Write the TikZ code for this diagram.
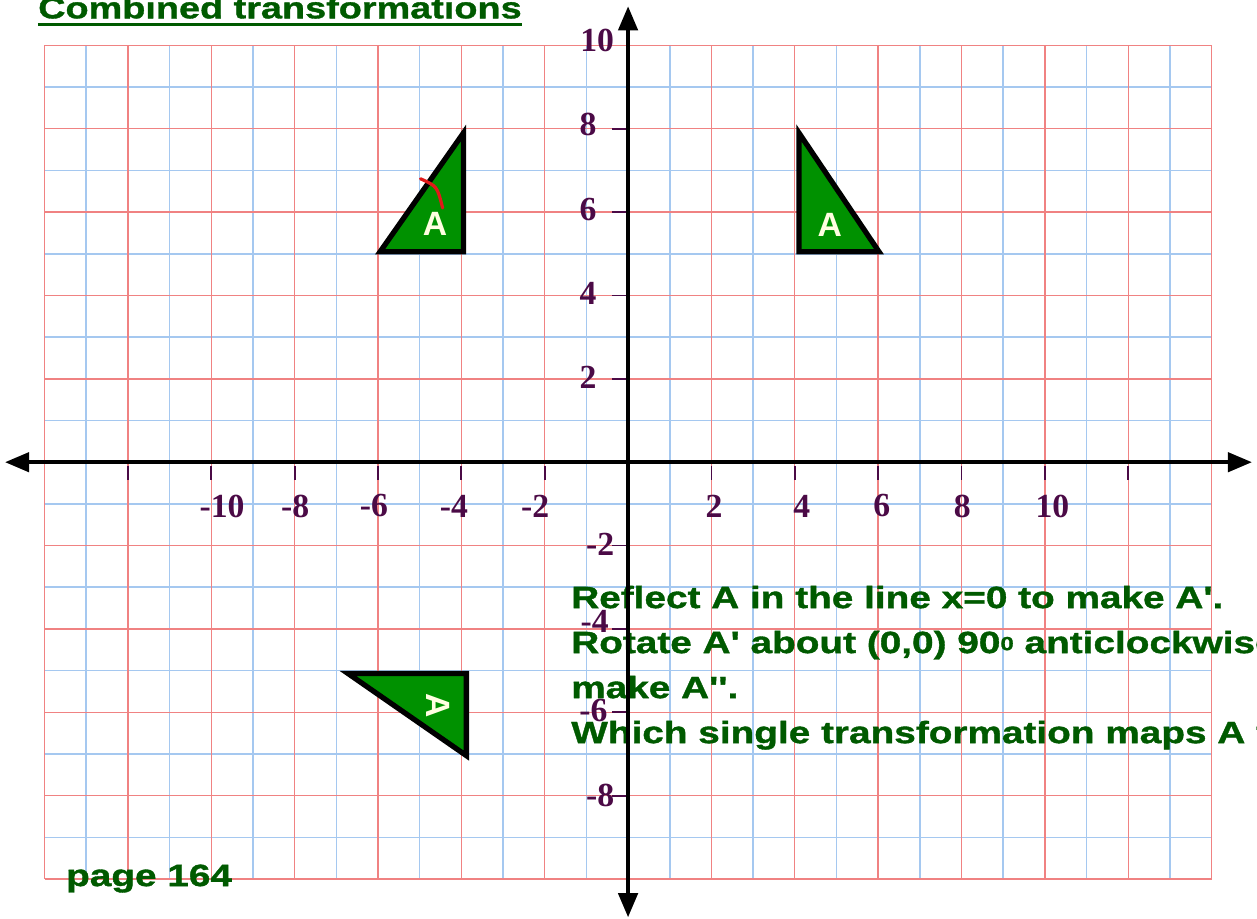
\documentclass[tikz,border=0pt]{standalone}
\usepackage{fontspec}
\usetikzlibrary{arrows.meta}
\newfontfamily\taskfont[FakeStretch=1.26,FakeBold=1.2,Ligatures=TeXOff]{Liberation Sans}
\newfontfamily\letterfont{Liberation Sans}
\newfontfamily\numfont{Liberation Serif}
\definecolor{gridred}{RGB}{240,130,130}
\definecolor{gridblue}{RGB}{165,200,240}
\definecolor{textgreen}{RGB}{0,90,0}
\definecolor{shapegreen}{RGB}{0,145,0}
\definecolor{numpurple}{RGB}{75,10,70}
\definecolor{letterwhite}{RGB}{255,255,225}
\definecolor{penred}{RGB}{225,25,25}
\begin{document}
\begin{tikzpicture}[>={Triangle[length=5.8mm,width=4.6mm]},
  task/.style={inner sep=0, anchor=base west, text=textgreen, font=\taskfont\bfseries\fontsize{21}{25}\selectfont},
  num/.style={inner sep=0, text=numpurple, font=\numfont\bfseries\fontsize{23}{27}\selectfont},
  tickmark/.style={numpurple, line width=1.2pt},
  tri/.style={draw=black, fill=shapegreen, line width=3.6pt},
  letter/.style={inner sep=0, text=letterwhite, font=\letterfont\bfseries\fontsize{23}{27}\selectfont}]
\useasboundingbox (-15.07,-10.94) rectangle (15.09,11.09);
% squared paper
\foreach \x in {-13,-11,...,13} \draw[gridblue, line width=1.1pt] (\x,-10) -- (\x,10);
\foreach \y in {-9,-7,...,9} \draw[gridblue, line width=1.1pt] (-14,\y) -- (14,\y);
\foreach \x in {-14,-12,...,14} \draw[gridred, line width=0.9pt] (\x,-10) -- (\x,10);
\foreach \y in {-10,-8,...,10} \draw[gridred, line width=0.9pt] (-14,\y) -- (14,\y);
% task text
\node[task, font=\taskfont\bfseries\fontsize{20.5}{25}\selectfont] (title) at (-14.16,10.65) {Combined transformations};
\draw[textgreen, line width=1.6pt] ([yshift=-4.3pt]title.base west) -- ([yshift=-4.3pt]title.base east);
\node[task] (reflect) at (-1.37,-3.50) {Reflect A in the line x=0 to make A'.};
\node[task] (rotate) at (-1.37,-4.58) {Rotate A' about (0,0) 90{\fontsize{13}{15}\selectfont\raisebox{2pt}{0}} anticlockwise};
\node[task] (make) at (-1.37,-5.66) {make A''.};
\node[task] (which) at (-1.37,-6.74) {Which single transformation maps A to};
\node[task] (page) at (-13.49,-10.17) {page 164};
% triangles
\draw[tri] (-5.95,5.05) -- (-3.95,5.05) -- (-3.95,7.9) -- cycle;
\draw[tri] (4.1,5.05) -- (4.1,7.9) -- (6.02,5.05) -- cycle;
\draw[tri] (-6.72,-5.07) -- (-3.88,-5.07) -- (-3.88,-7.04) -- cycle;
\node[letter] (a) at (-4.63,5.71) {A};
\node[letter] (b) at (4.84,5.69) {A};
\node[letter, rotate=-90] (c) at (-4.56,-5.83) {A};
\draw[penred, line width=2.2pt, line cap=round] (-4.98,6.8) .. controls (-4.58,6.62) .. (-4.45,6.1);
% ticks and numbers
\foreach \x in {-12,-10,...,-2,2,4,...,12} \draw[tickmark] (\x,-0.08) -- (\x,-0.42);
\foreach \y in {-8,-6,...,-2,2,4,...,8} \draw[tickmark] (-0.38,\y) -- (-0.05,\y);
\foreach \v/\px [count=\i] in {-10/-9.74,-8/-7.99,-6/-6.1,-4/-4.18,-2/-2.23,2/2.06,4/4.17,6/6.09,8/8.02,10/10.18}
  \node[num] (xnum\i) at (\px,-1.05) {\v};
\foreach \v/\px/\py [count=\i] in {10/-0.74/10.13,8/-0.96/8.11,6/-0.96/6.07,4/-0.96/4.06,2/-0.96/2.04,-2/-0.67/-1.97,-4/-0.80/-3.83,-6/-0.83/-5.95,-8/-0.67/-7.99}
  \node[num] (ynum\i) at (\px,\py) {\v};
% axes
\coordinate (left) at (-14.95,0);
\coordinate (right) at (14.97,0);
\coordinate (bottom) at (0,-10.92);
\coordinate (top) at (0,10.94);
\draw[line width=2.8pt, <->] (left) -- (right);
\draw[line width=2.8pt, <->] (bottom) -- (top);
\end{tikzpicture}
\end{document}
